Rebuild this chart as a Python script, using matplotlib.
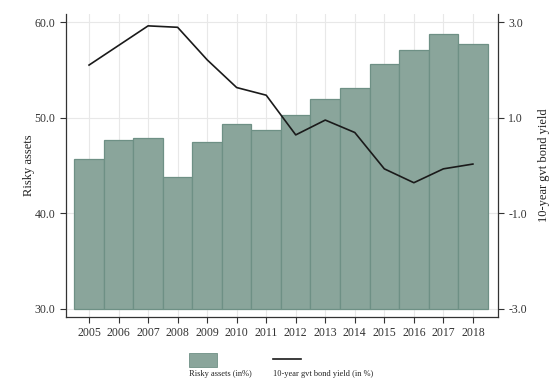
import matplotlib
matplotlib.use("Agg")
import matplotlib.pyplot as plt
from matplotlib.patches import Rectangle
from matplotlib.lines import Line2D

years = [2005, 2006, 2007, 2008, 2009, 2010, 2011, 2012, 2013, 2014, 2015, 2016, 2017, 2018]
risky_assets = [45.7, 47.7, 47.9, 43.8, 47.5, 49.3, 48.75, 50.3, 52.0, 53.1, 55.6, 57.1, 58.8, 57.7]
bond_yield = [2.10, 2.51, 2.92, 2.89, 2.21, 1.63, 1.47, 0.64, 0.95, 0.69, -0.07, -0.36, -0.07, 0.03]
left_ticks = [30.0, 40.0, 50.0, 60.0]
right_ticks = [-3.0, -1.0, 1.0, 3.0]

plt.rcParams['font.family'] = ['Liberation Serif', 'DejaVu Serif']

fig = plt.figure(figsize=(5.54, 3.85), dpi=100)
ax = fig.add_axes([66/554, 1-317/385, (498-66)/554, (317-14)/385])

base = 30.0
ax.bar(years, [v - base for v in risky_assets], bottom=base, width=1.0,
       color='#8aa59b', edgecolor='#6e9085', linewidth=0.9, zorder=2)
ax.set_ylim(29.16, 60.84)
ax.set_xlim(2004.22, 2018.85)
ax.set_yticks(left_ticks)
ax.set_yticklabels([f"{t:.1f}" for t in left_ticks])
ax.set_xticks(years)
ax.set_xticklabels([str(y) for y in years])
ax.grid(True, color='#e8e8e8', linewidth=0.8, zorder=0)
ax.set_axisbelow(True)
ax.set_ylabel('Risky assets', fontsize=9, color='#222222', labelpad=0)
ax.tick_params(axis='both', labelsize=8.5, direction='out', length=4, width=0.8,
               color='#333333', labelcolor='#333333')
for s in ['top', 'right']:
    ax.spines[s].set_visible(False)
for s in ['left', 'bottom']:
    ax.spines[s].set_color('#333333')
    ax.spines[s].set_linewidth(0.9)

ax2 = ax.twinx()
ax2.plot(years, bond_yield, color='#1a1a1a', linewidth=1.2, zorder=3)
ax2.set_ylim(-3.0 - 0.84/5, 3.0 + 0.84/5)
ax2.set_yticks(right_ticks)
ax2.set_yticklabels([f"{t:.1f}" for t in right_ticks])
ax2.set_ylabel('10-year gvt bond yield', fontsize=9, rotation=90, color='#222222', labelpad=8)
ax2.tick_params(axis='y', labelsize=8.5, direction='out', length=4, width=0.8,
                color='#333333', labelcolor='#333333')
for s in ['top', 'left', 'bottom']:
    ax2.spines[s].set_visible(False)
ax2.spines['right'].set_color('#333333')
ax2.spines['right'].set_linewidth(0.9)

# legend below
fig.patches.append(Rectangle((189/554, 1-367/385), 28/554, 14/385, transform=fig.transFigure,
                             facecolor='#8aa59b', edgecolor='#6e9085', linewidth=0.6))
fig.text(189/554, 1-374/385, 'Risky assets (in%)', fontsize=6, va='center', ha='left', color='#222222')
fig.lines.append(Line2D([273/554, 301/554], [1-359/385, 1-359/385], transform=fig.transFigure,
                        color='#1a1a1a', linewidth=1.2))
fig.text(273/554, 1-374/385, '10-year gvt bond yield (in %)', fontsize=6, va='center', ha='left', color='#222222')

fig.savefig('out.png', dpi=100)
